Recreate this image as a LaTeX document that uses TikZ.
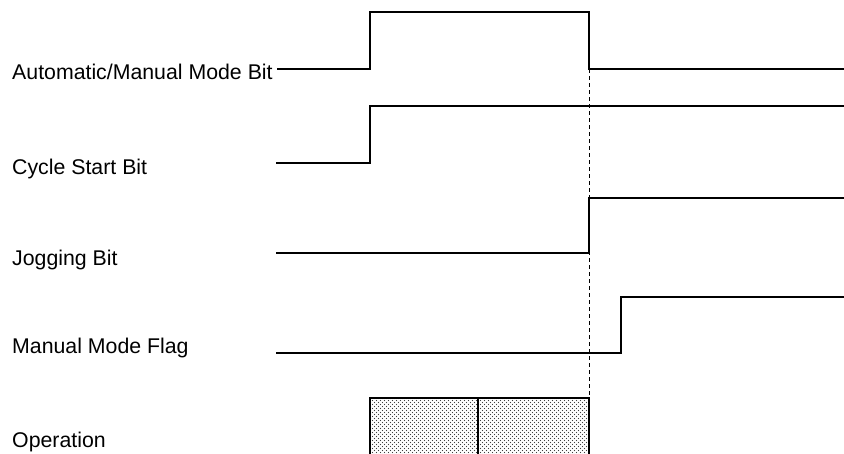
\documentclass[tikz,border=0pt]{standalone}
\usepackage{fontspec}
\setmainfont{Liberation Sans}
\usetikzlibrary{patterns}
\pgfdeclarepatternformonly{opdots}{\pgfqpoint{-1pt}{-1pt}}{\pgfqpoint{5pt}{5pt}}{\pgfqpoint{4pt}{4pt}}{%
  \pgfpathcircle{\pgfqpoint{0.5pt}{0.5pt}}{0.55pt}
  \pgfpathcircle{\pgfqpoint{2.5pt}{2.5pt}}{0.55pt}
  \pgfusepath{fill}}
\begin{document}
\begin{tikzpicture}[x=1pt,y=-1pt,
  sig/.style={line width=2pt, line join=miter},
  lbl/.style={anchor=base west, inner sep=0pt, font=\fontsize{21.3}{24}\selectfont},
  guide/.style={line width=0.9pt, dash pattern=on 4pt off 3pt},
  opbox/.style={line width=2pt, pattern=opdots, pattern color=black!75}]
\useasboundingbox (0,0) rectangle (844,453);
\clip (0,0) rectangle (844,453);
% labels
\node[lbl] (am) at (12,79) {Automatic/Manual Mode Bit};
\node[lbl] (cs) at (12,174) {Cycle Start Bit};
\node[lbl] (jg) at (12,265) {Jogging Bit};
\node[lbl] (mf) at (12,353) {Manual Mode Flag};
\node[lbl] (op) at (12,447) {Operation};
% waveforms
\draw[sig] (277,69) -- (370,69) -- (370,12) -- (589,12) -- (589,69) -- (844,69);
\draw[sig] (276,163) -- (370,163) -- (370,106) -- (844,106);
\draw[sig] (276,253) -- (589,253) -- (589,198) -- (844,198);
\draw[sig] (276,353) -- (621,353) -- (621,297) -- (844,297);
% operation box
\draw[opbox] (370,398) rectangle (589,470);
\draw[line width=2pt] (478,398) -- (478,470);
% guide line
\draw[guide] (589,69) -- (589,398);
\end{tikzpicture}
\end{document}
